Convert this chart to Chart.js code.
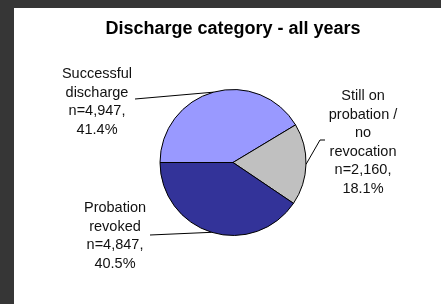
<!DOCTYPE html>
<html>
<head>
<meta charset="utf-8">
<script src="https://cdn.jsdelivr.net/npm/chart.js@4"></script>
<style>
  html, body { margin: 0; padding: 0; }
  body { width: 441px; height: 304px; background: #363636; position: relative; overflow: hidden; }
  #panel { position: absolute; left: 14px; top: 8px; width: 427px; height: 296px; background: #fff; }
</style>
</head>
<body>
<div id="panel"><canvas id="chart" width="427" height="296"></canvas></div>
<script>
// Data
const categories = ['Successful discharge', 'Still on probation / no revocation', 'Probation revoked'];
const labelLines = [['Successful', 'discharge'], ['Still on', 'probation /', 'no', 'revocation'], ['Probation', 'revoked']];
const counts = [4947, 2160, 4847];
const colors = ['#9999FF', '#C0C0C0', '#333399'];

const total = counts.reduce((a, b) => a + b, 0);

// Label placement (canvas px): text centre x, first line y, leader bend points
const labelLayout = [
    { x: 83, y: 66, leader: [[121, 91]] },
    { x: 349, y: 88, leader: [[306, 132], [311, 132]] },
    { x: 101, y: 200, leader: [[136, 227]] }
];
const lineHeight = 18.5;

const labelsPlugin = {
    id: 'pieLabels',
    afterDraw(chart) {
        const ctx = chart.ctx;
        const arcs = chart.getDatasetMeta(0).data;
        ctx.save();

        // title
        ctx.fillStyle = '#000';
        ctx.font = 'bold 18px "Liberation Sans", Arial, sans-serif';
        ctx.textAlign = 'center';
        ctx.textBaseline = 'middle';
        ctx.fillText('Discharge category - all years', 219, 21);

        ctx.font = '14.5px "Liberation Sans", Arial, sans-serif';
        arcs.forEach((arc, i) => {
            const p = arc.getProps(['x', 'y', 'startAngle', 'endAngle', 'outerRadius'], true);
            const mid = (p.startAngle + p.endAngle) / 2;
            const ax = p.x + Math.cos(mid) * p.outerRadius;
            const ay = p.y + Math.sin(mid) * p.outerRadius;
            const lay = labelLayout[i];

            ctx.strokeStyle = '#000';
            ctx.lineWidth = 1;
            ctx.beginPath();
            ctx.moveTo(ax, ay);
            lay.leader.forEach(pt => ctx.lineTo(pt[0], pt[1]));
            ctx.stroke();

            const pct = (counts[i] / total * 100).toFixed(1) + '%';
            const lines = labelLines[i].concat(['n=' + counts[i].toLocaleString('en-US') + ',', pct]);
            ctx.fillStyle = '#111';
            lines.forEach((t, k) => ctx.fillText(t, lay.x, lay.y + k * lineHeight));
        });
        ctx.restore();
    }
};

new Chart(document.getElementById('chart'), {
    type: 'pie',
    data: {
        labels: categories,
        datasets: [{
            data: counts,
            backgroundColor: colors,
            borderColor: '#000',
            borderWidth: 1
        }]
    },
    options: {
        responsive: false,
        animation: false,
        rotation: 270,
        radius: 73,
        layout: { padding: { left: 11, top: 13 } },
        plugins: {
            legend: { display: false },
            tooltip: { enabled: false }
        }
    },
    plugins: [labelsPlugin]
});
</script>
</body>
</html>
